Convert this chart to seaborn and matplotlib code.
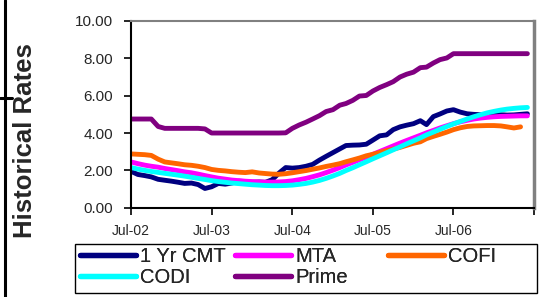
import numpy as np
import pandas as pd
import seaborn as sns
import matplotlib.pyplot as plt
from matplotlib.patches import Rectangle
from matplotlib.lines import Line2D

# monthly rates, Jul-02 .. Jun-07
months = pd.date_range('2002-07-01', periods=60, freq='MS')

cmt = [1.95, 1.78, 1.72, 1.65, 1.52, 1.47, 1.42, 1.36, 1.30, 1.32, 1.24, 1.03,
       1.12, 1.30, 1.26, 1.32, 1.42, 1.40, 1.36, 1.38, 1.36, 1.50, 1.85, 2.15,
       2.12, 2.15, 2.22, 2.32, 2.55, 2.75, 2.95, 3.15, 3.33, 3.35, 3.36, 3.40,
       3.62, 3.85, 3.90, 4.18, 4.33, 4.42, 4.50, 4.66, 4.45, 4.88, 5.02, 5.18,
       5.25, 5.12, 5.03, 5.00, 4.98, 4.95, 4.98, 4.98, 4.96, 4.97, 5.00, 5.03]
mta = [2.45, 2.36, 2.28, 2.22, 2.17, 2.10, 2.04, 1.98, 1.92, 1.87, 1.80, 1.72,
       1.65, 1.58, 1.53, 1.48, 1.45, 1.42, 1.40, 1.38, 1.37, 1.37, 1.38, 1.40,
       1.44, 1.50, 1.57, 1.66, 1.76, 1.88, 2.01, 2.15, 2.29, 2.43, 2.57, 2.71,
       2.86, 3.01, 3.16, 3.31, 3.46, 3.60, 3.74, 3.88, 4.01, 4.14, 4.27, 4.39,
       4.50, 4.60, 4.68, 4.75, 4.80, 4.84, 4.87, 4.89, 4.90, 4.91, 4.92, 4.92]
cofi = [2.88, 2.86, 2.84, 2.80, 2.60, 2.45, 2.40, 2.35, 2.30, 2.27, 2.22, 2.15,
        2.05, 2.00, 1.97, 1.93, 1.90, 1.88, 1.92, 1.86, 1.83, 1.80, 1.79, 1.82,
        1.87, 1.93, 1.99, 2.06, 2.13, 2.21, 2.28, 2.36, 2.46, 2.56, 2.66, 2.78,
        2.86, 2.96, 3.06, 3.14, 3.23, 3.34, 3.45, 3.53, 3.70, 3.82, 3.93, 4.05,
        4.18, 4.28, 4.35, 4.38, 4.39, 4.40, 4.40, 4.38, 4.33, 4.27, 4.33, np.nan]
codi = [2.15, 2.07, 2.00, 1.94, 1.89, 1.84, 1.79, 1.74, 1.69, 1.63, 1.57, 1.51,
        1.45, 1.40, 1.36, 1.32, 1.29, 1.26, 1.23, 1.21, 1.19, 1.18, 1.18, 1.19,
        1.21, 1.25, 1.30, 1.37, 1.46, 1.57, 1.70, 1.84, 1.99, 2.14, 2.30, 2.46,
        2.62, 2.78, 2.94, 3.10, 3.26, 3.42, 3.58, 3.74, 3.90, 4.05, 4.20, 4.35,
        4.49, 4.62, 4.75, 4.87, 4.98, 5.08, 5.16, 5.23, 5.28, 5.32, 5.35, 5.37]
prime = [4.75, 4.75, 4.75, 4.75, 4.35, 4.25, 4.25, 4.25, 4.25, 4.25, 4.25, 4.22,
         4.00, 4.00, 4.00, 4.00, 4.00, 4.00, 4.00, 4.00, 4.00, 4.00, 4.00, 4.01,
         4.25, 4.43, 4.58, 4.75, 4.93, 5.15, 5.25, 5.49, 5.58, 5.75, 5.98, 6.01,
         6.25, 6.44, 6.59, 6.75, 7.00, 7.15, 7.26, 7.50, 7.53, 7.75, 7.93, 8.02,
         8.25, 8.25, 8.25, 8.25, 8.25, 8.25, 8.25, 8.25, 8.25, 8.25, 8.25, 8.25]

series_names = ['1 Yr CMT', 'MTA', 'COFI', 'CODI', 'Prime']
colors = ['#000080', '#FF00FF', '#FF6600', '#00FFFF', '#800080']
y_ticks = [0, 2, 4, 6, 8, 10]
x_tick_dates = pd.to_datetime(['2002-07-01', '2003-07-01', '2004-07-01',
                               '2005-07-01', '2006-07-01', '2007-07-01'])
x_tick_labels = ['Jul-02', 'Jul-03', 'Jul-04', 'Jul-05', 'Jul-06', '']

df = pd.DataFrame({'date': months, '1 Yr CMT': cmt, 'MTA': mta,
                   'COFI': cofi, 'CODI': codi, 'Prime': prime})
df = df.melt(id_vars='date', var_name='series', value_name='rate')

sns.set_style('white')
plt.rcParams['font.family'] = ['Liberation Sans', 'DejaVu Sans']

W, H = 553, 297
fig = plt.figure(figsize=(W / 100, H / 100), dpi=100)
ax = fig.add_axes([131 / W, 1 - 207.7 / H, 403 / W, 186.7 / H])

sns.lineplot(data=df, x='date', y='rate', hue='series', hue_order=series_names,
             palette=colors, linewidth=3.5, estimator=None, legend=False, ax=ax)
for ln in ax.lines:
    ln.set_solid_capstyle('round')
    ln.set_solid_joinstyle('round')

ax.set_xlim(x_tick_dates[0], x_tick_dates[-1])
ax.set_ylim(0, 10)
ax.set_xticks(x_tick_dates)
ax.set_xticklabels(x_tick_labels, fontsize=10)
ax.set_yticks(y_ticks)
ax.set_yticklabels(['%.2f' % v for v in y_ticks], fontsize=11)
ax.set_xlabel('')
ax.set_ylabel('')
ax.tick_params(axis='both', direction='out', length=5, width=1.2, color='black',
               bottom=True, left=True)
ax.tick_params(axis='x', pad=7)
ax.tick_params(axis='y', pad=8)
for s in ['left', 'bottom']:
    ax.spines[s].set_color('black')
    ax.spines[s].set_linewidth(1.5)
ax.spines['top'].set_color('#808080')
ax.spines['top'].set_linewidth(1.5)
ax.spines['right'].set_color('#808080')
ax.spines['right'].set_linewidth(2.5)

fig.text(25 / W, 1 - 141 / H, 'Historical Rates', rotation=90, ha='center',
         va='center', fontsize=18.5, fontweight='bold')

# black edge lines on the left
fig.add_artist(Line2D([5 / W, 5 / W], [0, 1], color='black', lw=2.2))
fig.add_artist(Line2D([0, 12 / W], [1 - 97.5 / H, 1 - 97.5 / H], color='black', lw=2.2))

# legend: three columns with Excel-like spacing, one box around them
handles = {n: Line2D([], [], color=c, lw=3.8, solid_capstyle='round')
           for n, c in zip(series_names, colors)}
columns = [(['1 Yr CMT', 'CODI'], 80), (['MTA', 'Prime'], 235), (['COFI'], 388)]
for names, x0 in columns:
    leg = fig.legend([handles[n] for n in names], names, loc='upper left',
                     bbox_to_anchor=(x0 / W, 1 - 247 / H), frameon=False,
                     borderpad=0, borderaxespad=0, handlelength=2.8,
                     handletextpad=0.2, labelspacing=0.12, fontsize=14.5)
    fig.add_artist(leg)
fig.add_artist(Rectangle((75 / W, 1 - 293 / H), 462 / W, 49 / H,
                         transform=fig.transFigure, fill=False,
                         edgecolor='black', lw=1.0))

fig.savefig('out.png', dpi=100)
